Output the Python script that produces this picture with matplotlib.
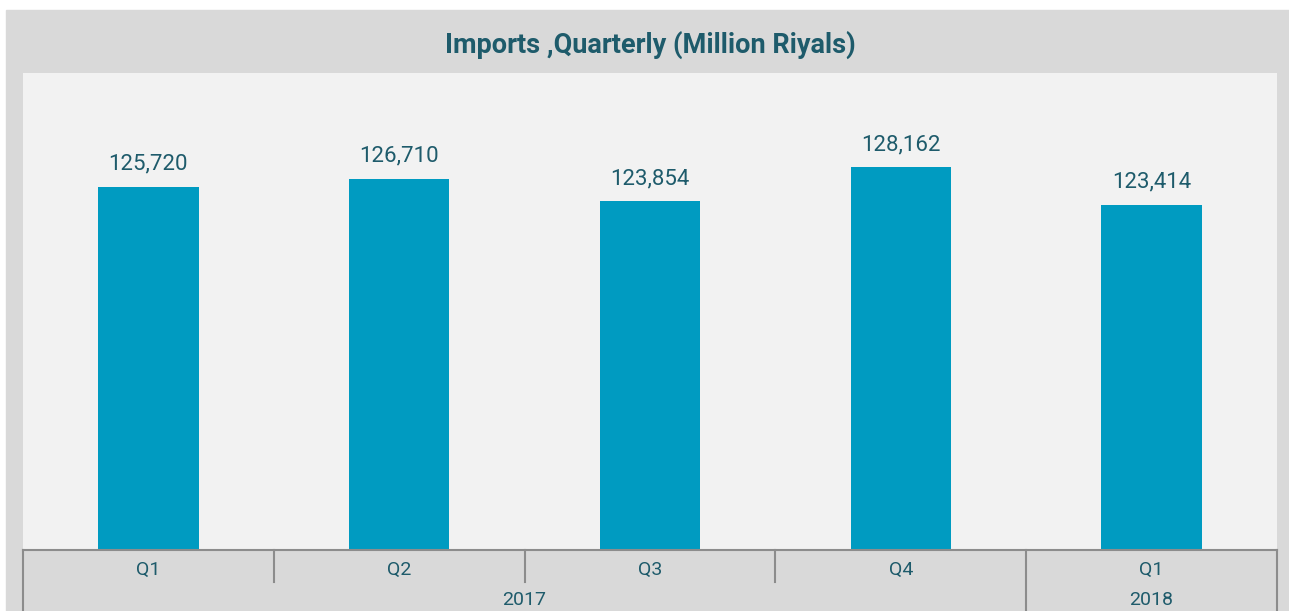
import matplotlib
matplotlib.use("Agg")
import matplotlib.pyplot as plt
from matplotlib.patches import Rectangle
from matplotlib.transforms import blended_transform_factory

# ── data ──────────────────────────────────────────────────────────────────────
TITLE    = "Imports ,Quarterly (Million Riyals)"
QUARTERS = ["Q1", "Q2", "Q3", "Q4", "Q1"]
YEARS    = ["2017", "2018"]
YEAR_SPAN = [(0, 3), (4, 4)]          # first / last quarter index per year
IMPORTS  = [125720, 126710, 123854, 128162, 123414]

BAR_C   = "#009BC1"
TEXT_C  = "#1E5B6B"
PANEL_C = "#D9D9D9"
PLOT_C  = "#F2F2F2"
LINE_C  = "#8C8C8C"

plt.rcParams["font.family"] = ["Roboto", "DejaVu Sans"]

W, H = 1289, 611
fig = plt.figure(figsize=(W / 100, H / 100), dpi=100)
fig.patch.set_facecolor("white")
fig.patches.append(Rectangle((6 / W, 0), 1 - 6 / W, (H - 10) / H,
                             transform=fig.transFigure, color=PANEL_C, zorder=-10))

ax = fig.add_axes([23 / W, (H - 550) / H, (1277 - 23) / W, (550 - 73) / H])
ax.set_facecolor(PLOT_C)

x = list(range(len(IMPORTS)))
ax.bar(x, IMPORTS, width=0.4, color=BAR_C, zorder=2)
for xi, v in zip(x, IMPORTS):
    ax.annotate(f"{v:,}", xy=(xi, v), xytext=(0, 17), textcoords="offset pixels",
                ha="center", va="baseline", fontsize=16, color=TEXT_C)

ax.set_xlim(-0.5, len(IMPORTS) - 0.5)
ax.set_ylim(80000, 140000)
ax.set_xticks([])
ax.set_yticks([])
for s in ["top", "left", "right"]:
    ax.spines[s].set_visible(False)
ax.spines["bottom"].set_color(LINE_C)
ax.spines["bottom"].set_linewidth(1.5)

# multi-level category axis
tr = blended_transform_factory(ax.transData, ax.transAxes)
for xi, q in zip(x, QUARTERS):
    ax.text(xi, -0.042, q, transform=tr, ha="center", va="center",
            fontsize=14, color=TEXT_C, clip_on=False)
year_edges = set()
for yr, (a, b) in zip(YEARS, YEAR_SPAN):
    ax.text((a + b) / 2, -0.105, yr, transform=tr, ha="center", va="center",
            fontsize=14, color=TEXT_C, clip_on=False)
    year_edges.update([a - 0.5, b + 0.5])
for i in range(len(IMPORTS) + 1):
    edge = i - 0.5
    bottom = -0.15 if edge in year_edges else -0.067
    ax.plot([edge, edge], [0, bottom], transform=tr, color=LINE_C, lw=1.5,
            clip_on=False)

fig.text(650 / W, (H - 45) / H, TITLE, ha="center", va="center",
         fontsize=19.5, fontweight="bold", color=TEXT_C)

fig.savefig("out.png", dpi=100)
